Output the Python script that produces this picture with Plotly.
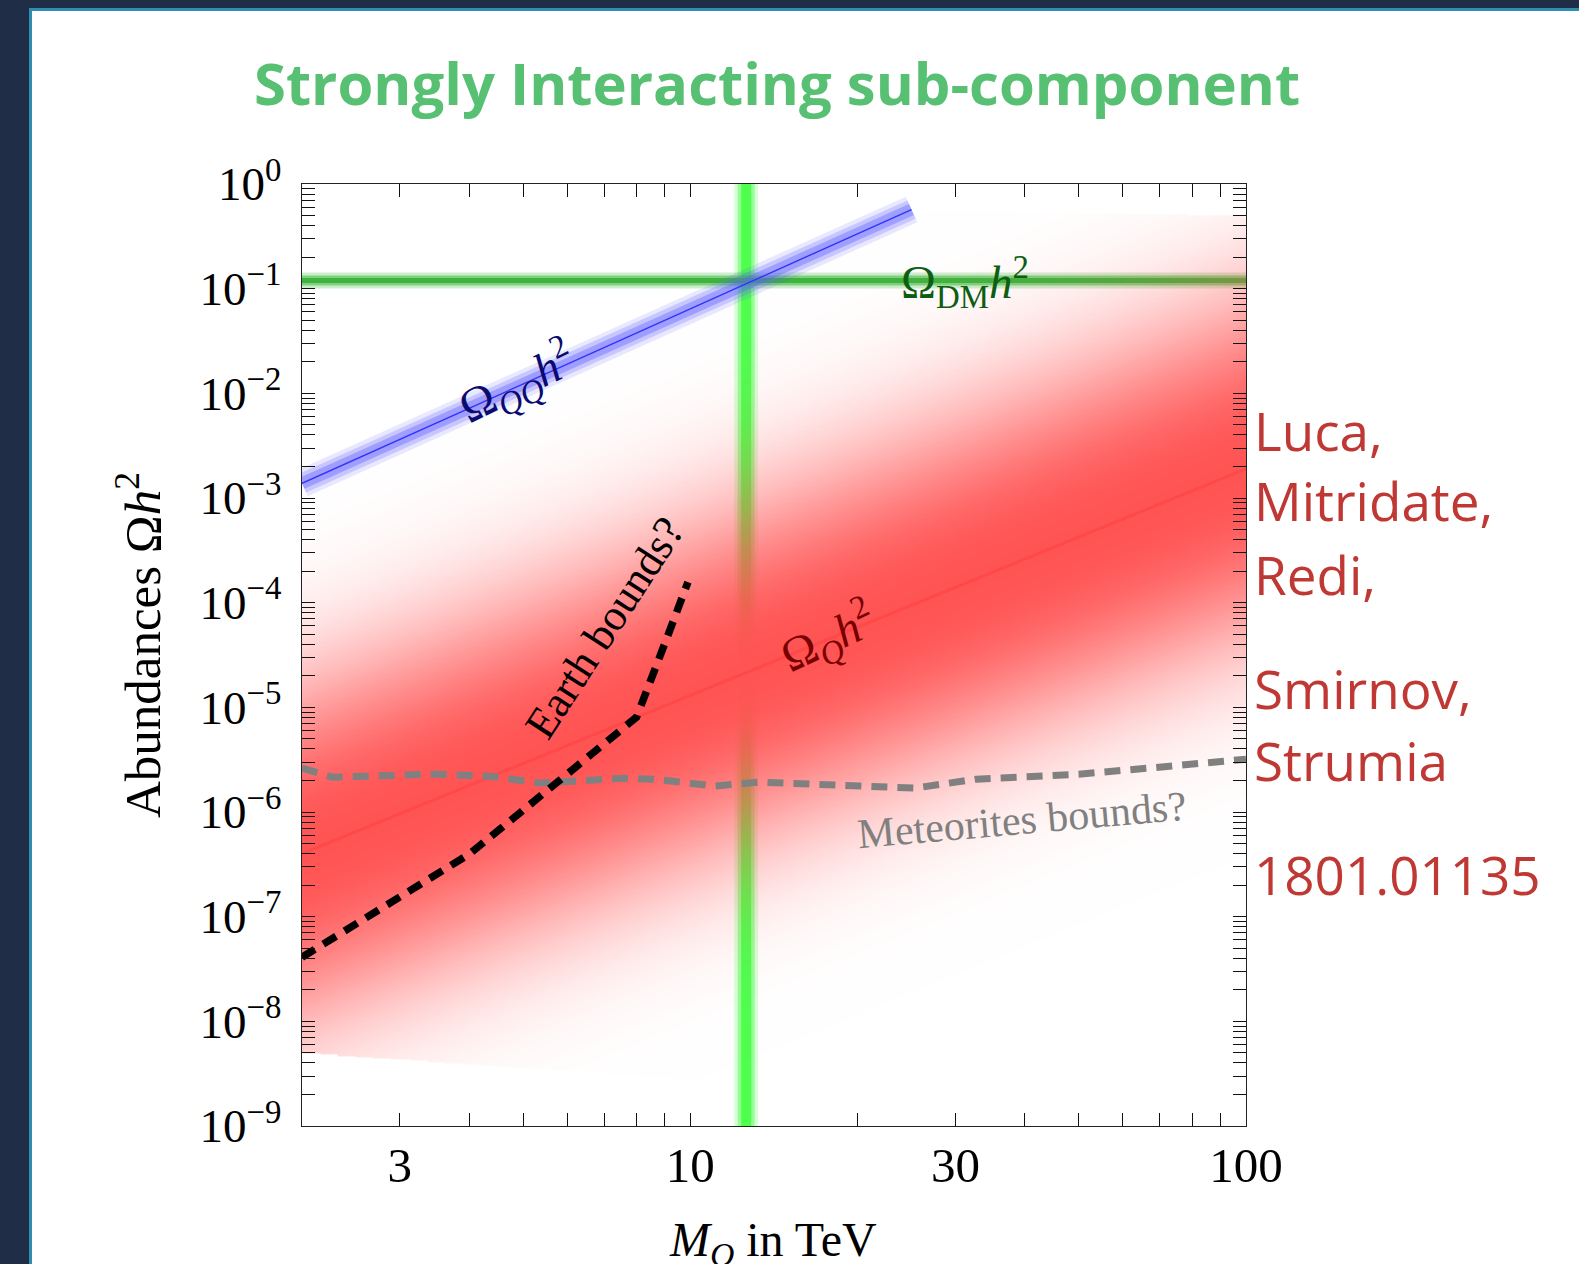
import numpy as np
import plotly.graph_objects as go

# ---------------- data ----------------
# Omega_Q h^2 : central power-law estimate at the ends of the mass range (TeV)
omega_q_mass = [2.0, 100.0]
omega_q = [4.0e-7, 1.9e-3]
omega_q_spread = 1.7          # uncertainty scale of the band, in decades

# Omega_QQ h^2 (bound states)
omega_qq_mass = [2.0, 25.0]
omega_qq = [1.38e-3, 0.57]

# Observed dark-matter abundance and the mass where Omega_QQ reaches it
omega_dm = 0.12
m_dm = 12.6

# Earth bounds (black dashed)
earth_mass = [2.0, 3.0, 4.0, 5.0, 6.0, 7.0, 8.0, 9.0, 9.9]
earth_omega = [4.1e-8, 1.54e-7, 3.96e-7, 1.04e-6, 2.3e-6, 4.45e-6, 8.05e-6, 4.1e-5, 1.57e-4]

# Meteorite bounds (grey dashed)
meteor_mass = [2.0, 2.27, 3.5, 4.35, 5.36, 7.56, 8.57, 11.1, 13.3, 18.4, 25.3, 32.7, 50.0, 66.6, 100.0]
meteor_omega = [2.62e-6, 2.15e-6, 2.3e-6, 2.2e-6, 1.89e-6, 2.1e-6, 2.06e-6, 1.77e-6,
                1.93e-6, 1.81e-6, 1.69e-6, 2.06e-6, 2.3e-6, 2.62e-6, 3.2e-6]

x_tick_vals = [3, 10, 30, 100]
x_tick_text = ["3", "10", "30", "100"]
y_exponents = list(range(-9, 1))

authors = ["Luca,", "Mitridate,", "Redi,", "Smirnov,", "Strumia", "1801.01135"]

# ---------------- geometry helpers (figure pixels -> paper) ----------------
W, H = 1579, 1264
L, R, T, B = 302, 1246, 184, 1126


def px(xp):
    return (xp - L) / (R - L)


def py(yp):
    return (B - yp) / (B - T)


serif = "Liberation Serif"
sans = "Open Sans"

fig = go.Figure()

# ---- green reference lines on the base axes (under the red band) ----
for w, c in [(24, "rgba(80,255,80,0.22)"), (17, "rgba(80,255,80,0.5)"), (10, "rgb(78,255,78)")]:
    fig.add_trace(go.Scatter(x=[m_dm, m_dm], y=[1e-9, 1.0], mode="lines",
                             line=dict(color=c, width=w), hoverinfo="skip", showlegend=False))
for w, c in [(16, "rgba(60,185,60,0.25)"), (10, "rgba(60,185,60,0.55)"), (5, "rgb(62,180,62)")]:
    fig.add_trace(go.Scatter(x=[2.0, 100.0], y=[omega_dm, omega_dm], mode="lines",
                             line=dict(color=c, width=w), hoverinfo="skip", showlegend=False))

# ---- red uncertainty band for Omega_Q h^2 (overlay axes) ----
lx = np.linspace(np.log10(2.0), 2.0, 380)
ly = np.linspace(-9.0, 0.0, 760)
LX, LY = np.meshgrid(lx, ly)
lq0, lq1 = np.log10(omega_q)
lm0, lm1 = np.log10(omega_q_mass)
centre = lq0 + (lq1 - lq0) * (LX - lm0) / (lm1 - lm0)
d = np.abs(LY - centre)
z = np.exp(-(d / omega_q_spread) ** 2.4)
lower = -8.30 - 0.37 * (LX - lm0)
upper = -0.11 - 0.117 * (LX - lm0)
z[(LY < lower) | (LY > upper)] = np.nan
fig.add_trace(go.Heatmap(x=10 ** lx, y=10 ** ly, z=np.round(z, 3), xaxis="x2", yaxis="y2",
                         colorscale=[[0, "rgba(255,84,84,0)"], [1, "rgba(255,84,84,1)"]],
                         zmin=0, zmax=1, showscale=False, hoverinfo="skip"))
fig.add_trace(go.Scatter(x=omega_q_mass, y=omega_q, mode="lines", xaxis="x2", yaxis="y2",
                         line=dict(color="rgba(255,60,60,0.45)", width=3),
                         hoverinfo="skip", showlegend=False))

# ---- Omega_QQ h^2 glowing blue line ----
for w, c in [(28, "rgba(95,95,255,0.14)"), (20, "rgba(95,95,255,0.24)"),
             (12, "rgba(95,95,255,0.38)"), (1.4, "rgb(50,50,255)")]:
    fig.add_trace(go.Scatter(x=omega_qq_mass, y=omega_qq, mode="lines", xaxis="x2", yaxis="y2",
                             line=dict(color=c, width=w), hoverinfo="skip", showlegend=False))

# ---- bounds ----
fig.add_trace(go.Scatter(x=meteor_mass, y=meteor_omega, mode="lines", xaxis="x2", yaxis="y2",
                         line=dict(color="rgb(128,128,128)", width=7, dash="16px,10px"),
                         hoverinfo="skip", showlegend=False))
fig.add_trace(go.Scatter(x=earth_mass, y=earth_omega, mode="lines", xaxis="x2", yaxis="y2",
                         line=dict(color="black", width=7.5, dash="15px,10px"),
                         hoverinfo="skip", showlegend=False))

# ---------------- axes ----------------
y_tick_vals = [10.0 ** e for e in y_exponents]
y_tick_text = ["10<sup>%s</sup>" % (str(e).replace("-", "\u2212")) for e in y_exponents]
y_minor = [k * 10.0 ** e for e in range(-9, 0) for k in range(2, 10)]
x_minor = [4, 5, 6, 7, 8, 9, 20, 40, 50, 60, 70, 80, 90]

xr = [np.log10(2.0), 2.0]
yr = [-9.0, 0.0]

common = dict(type="log", showgrid=False, zeroline=False, showline=True, linecolor="#222",
              linewidth=1.4, mirror="allticks", ticks="inside", ticklen=13, tickwidth=1.2,
              tickcolor="#111")

fig.update_layout(
    width=W, height=H,
    margin=dict(l=L, r=W - R, t=T, b=H - B),
    paper_bgcolor="#1f2d47",
    plot_bgcolor="white",
    xaxis=dict(range=xr, tickmode="array", tickvals=x_tick_vals, ticktext=x_tick_text,
               ticklabelstandoff=-4, tickfont=dict(family=serif, size=49, color="black"),
               minor=dict(tickmode="array", tickvals=x_minor, ticks="inside", ticklen=13,
                          tickwidth=1.2, tickcolor="#111"), **common),
    yaxis=dict(range=yr, tickmode="array", tickvals=y_tick_vals, ticktext=y_tick_text,
               ticklabelstandoff=10, tickfont=dict(family=serif, size=47, color="black"),
               minor=dict(tickmode="array", tickvals=y_minor, ticks="inside", ticklen=13,
                          tickwidth=1.2, tickcolor="#111"), **common),
    xaxis2=dict(type="log", range=xr, overlaying="x", visible=False),
    yaxis2=dict(type="log", range=yr, overlaying="y", visible=False),
    showlegend=False,
)

# ---------------- slide frame ----------------
fig.add_shape(type="rect", xref="paper", yref="paper", layer="below",
              x0=px(29), x1=px(1700), y0=py(1400), y1=py(8),
              fillcolor="#2f8db0", line=dict(width=0))
fig.add_shape(type="rect", xref="paper", yref="paper", layer="below",
              x0=px(32), x1=px(1700), y0=py(1400), y1=py(11),
              fillcolor="white", line=dict(width=0))

# ---------------- text ----------------
ann = []
ann.append(dict(text="<b>Strongly Interacting sub-component</b>", x=px(777), y=py(83),
                font=dict(family=sans, size=58, color="#57c072")))
ann.append(dict(text="Abundances \u03a9<i>h</i><sup>2</sup>", x=px(139), y=py(645), textangle=-90,
                font=dict(family=serif, size=51, color="black")))
ann.append(dict(text="<i>M<sub>Q</sub></i> in TeV", x=px(773), y=py(1243),
                font=dict(family=serif, size=48, color="black")))
ann.append(dict(text="\u03a9<sub>DM</sub><i>h</i><sup>2</sup>", x=px(965), y=py(282),
                font=dict(family=serif, size=47, color="#0d5e12")))
ann.append(dict(text="\u03a9<sub><i>QQ</i></sub><i>h</i><sup>2</sup>", x=px(517), y=py(383),
                textangle=-26, font=dict(family=serif, size=47, color="#0a0a70")))
ann.append(dict(text="\u03a9<sub><i>Q</i></sub><i>h</i><sup>2</sup>", x=px(828), y=py(638),
                textangle=-25, font=dict(family=serif, size=47, color="#780000")))
ann.append(dict(text="Earth bounds?", x=px(604), y=py(628), textangle=-57,
                font=dict(family=serif, size=44, color="black")))
ann.append(dict(text="Meteorites bounds?", x=px(1022), y=py(820), textangle=-5,
                font=dict(family=serif, size=42, color="rgb(128,128,128)")))

author_y = [430, 500, 574, 688, 760, 874]
for t, yy in zip(authors, author_y):
    ann.append(dict(text=t, x=px(1252), y=py(yy), xanchor="left",
                    font=dict(family=sans, size=53, color="#bf3833")))

for a in ann:
    a.setdefault("xanchor", "center")
    a.update(xref="paper", yref="paper", yanchor="middle", showarrow=False)
    fig.add_annotation(**a)

fig.write_html("out.html")
